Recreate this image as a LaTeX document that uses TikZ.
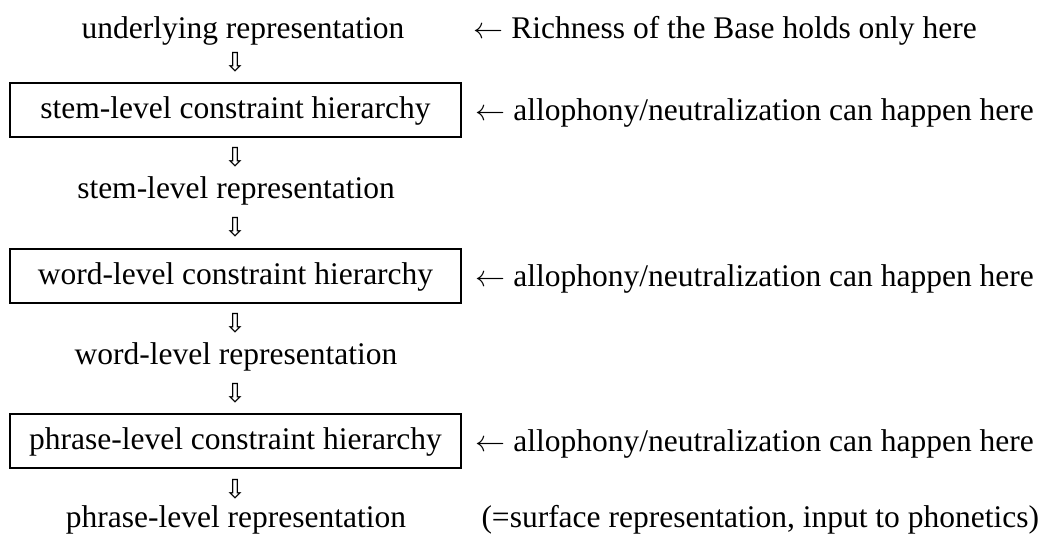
\documentclass[tikz,border=0pt]{standalone}
\usepackage{fontspec}
\setmainfont{Liberation Serif}
\newfontfamily\arrowfont{DejaVu Sans}

\begin{document}
\begin{tikzpicture}[x=0.4pt, y=-0.4pt, font=\fontsize{12.6}{15}\selectfont,
  level/.style={draw, line width=0.8pt, minimum width=180.4pt, minimum height=21.4pt,
    inner sep=0pt, text height=0.9em, text depth=0.22em},
  down/.style={font=\arrowfont\fontsize{10.5}{11}\selectfont, inner sep=0pt},
  rep/.style={anchor=base, inner sep=0pt},
  note/.style={anchor=base west, inner sep=0pt}]
  \useasboundingbox (0,0) rectangle (1047,541);
  % linke Spalte
  \node[rep] (ur) at (243,38) {underlying representation};
  \node[down] (d1) at (235,62) {⇩};
  \node[level] (stem) at (235.5,110) {stem-level constraint hierarchy};
  \node[down] (d2) at (235,157) {⇩};
  \node[rep] (sr) at (236,198) {stem-level representation};
  \node[down] (d3) at (235,227) {⇩};
  \node[level] (word) at (235.5,276) {word-level constraint hierarchy};
  \node[down] (d4) at (235,323) {⇩};
  \node[rep] (wr) at (236,364) {word-level representation};
  \node[down] (d5) at (235,393) {⇩};
  \node[level] (phrase) at (235.5,441) {phrase-level constraint hierarchy};
  \node[down] (d6) at (235,489) {⇩};
  \node[rep] (pr) at (236,527) {phrase-level representation};
  % rechte Spalte
  \node[note] (rb) at (473,38) {$\leftarrow$ Richness of the Base holds only here};
  \node[note] (n1) at (475,120) {$\leftarrow$ allophony/neutralization can happen here};
  \node[note] (n2) at (475,286) {$\leftarrow$ allophony/neutralization can happen here};
  \node[note] (n3) at (475,451) {$\leftarrow$ allophony/neutralization can happen here};
  \node[note] (sf) at (481,527) {(=surface representation, input to phonetics)};
\end{tikzpicture}
\end{document}
